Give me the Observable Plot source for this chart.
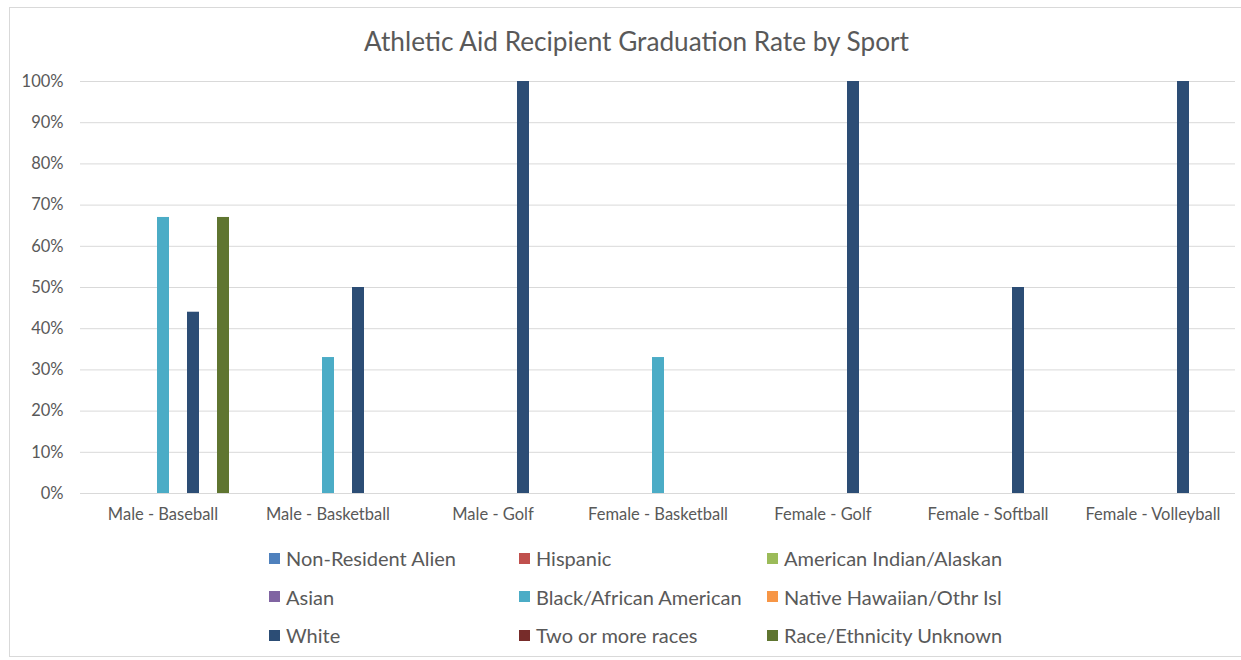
<!DOCTYPE html>
<html>
<head>
<meta charset="utf-8">
<script src="https://cdn.jsdelivr.net/npm/d3@7"></script>
<script src="https://cdn.jsdelivr.net/npm/@observablehq/plot@0.6"></script>
<style>
  html, body { margin: 0; padding: 0; background: #fff; }
  body { width: 1241px; height: 660px; position: relative; overflow: hidden; font-family: Lato, "Noto Sans", sans-serif; }
  #frame { position: absolute; left: 9px; top: 7px; width: 1240px; height: 650px; border: 1px solid #d9d9d9; box-sizing: border-box; z-index: 5; pointer-events: none; }
  #title { position: absolute; left: 16px; top: 0; width: 1241px; height: 62px; text-align: center; line-height: 82px; font-size: 26.2px; color: #595959; }
  #chart { position: absolute; left: 0; top: 62px; }
  #chart svg { background: transparent; }
  #legend { position: absolute; left: 269px; top: 539px; display: grid; grid-template-columns: 250px 248px auto; grid-auto-rows: 38.5px; font-size: 20px; color: #595959; }
  .item { display: flex; align-items: center; white-space: nowrap; }
  .sw { width: 11px; height: 11px; margin-right: 6px; flex: none; }
</style>
</head>
<body>
<div id="frame"></div>
<div id="title">Athletic Aid Recipient Graduation Rate by Sport</div>
<div id="chart"></div>
<div id="legend"></div>
<script>
const categories = ["Male - Baseball", "Male - Basketball", "Male - Golf", "Female - Basketball", "Female - Golf", "Female - Softball", "Female - Volleyball"];
const races = ["Non-Resident Alien", "Hispanic", "American Indian/Alaskan", "Asian", "Black/African American", "Native Hawaiian/Othr Isl", "White", "Two or more races", "Race/Ethnicity Unknown"];
const raceColors = ["#4f81bd", "#c0504d", "#9bbb59", "#8064a2", "#4bacc6", "#f79646", "#2c4d75", "#772c2a", "#5f7530"];
const yTicks = [0, 10, 20, 30, 40, 50, 60, 70, 80, 90, 100];

const nonResidentAlien   = [null, null, null, null, null, null, null];
const hispanic           = [null, null, null, null, null, null, null];
const americanIndian     = [null, null, null, null, null, null, null];
const asian              = [null, null, null, null, null, null, null];
const blackAfricanAmer   = [67, 33, null, 33, null, null, null];
const nativeHawaiian     = [null, null, null, null, null, null, null];
const white              = [44, 50, 100, null, 100, 50, 100];
const twoOrMore          = [null, null, null, null, null, null, null];
const unknownRace        = [67, null, null, null, null, null, null];

const seriesValues = [nonResidentAlien, hispanic, americanIndian, asian, blackAfricanAmer, nativeHawaiian, white, twoOrMore, unknownRace];

const data = [];
categories.forEach((c, ci) => {
  races.forEach((r, ri) => {
    data.push({category: c, race: r, value: seriesValues[ri][ci]});
  });
});

const plot = Plot.plot({
  width: 1241,
  height: 470,
  marginLeft: 79,
  marginRight: 5,
  marginTop: 19,
  marginBottom: 39,
  style: "font-family: Lato, 'Noto Sans', sans-serif; font-size: 16.5px; color: #595959; background: transparent;",
  fx: {domain: categories, padding: 0, paddingOuter: 0, label: null, axis: "bottom", tickSize: 0, tickPadding: 15},
  x: {domain: races, paddingInner: 0.2, paddingOuter: 0.88, axis: null},
  y: {domain: [0, 100], ticks: yTicks, tickFormat: d => d + "%", label: null, tickSize: 0, tickPadding: 17},
  color: {domain: races, range: raceColors},
  marks: [
    Plot.gridY(yTicks, {stroke: "#d9d9d9", strokeOpacity: 1, strokeWidth: 1}),
    Plot.barY(data.filter(d => d.value != null), {fx: "category", x: "race", y: "value", fill: "race"})
  ]
});
document.getElementById("chart").appendChild(plot);

const legend = document.getElementById("legend");
const color = plot.scale("color");
races.forEach((r, i) => {
  const item = document.createElement("div");
  item.className = "item";
  const sw = document.createElement("span");
  sw.className = "sw";
  sw.style.background = color.range[i];
  const t = document.createElement("span");
  t.textContent = r;
  item.appendChild(sw);
  item.appendChild(t);
  legend.appendChild(item);
});
</script>
</body>
</html>
